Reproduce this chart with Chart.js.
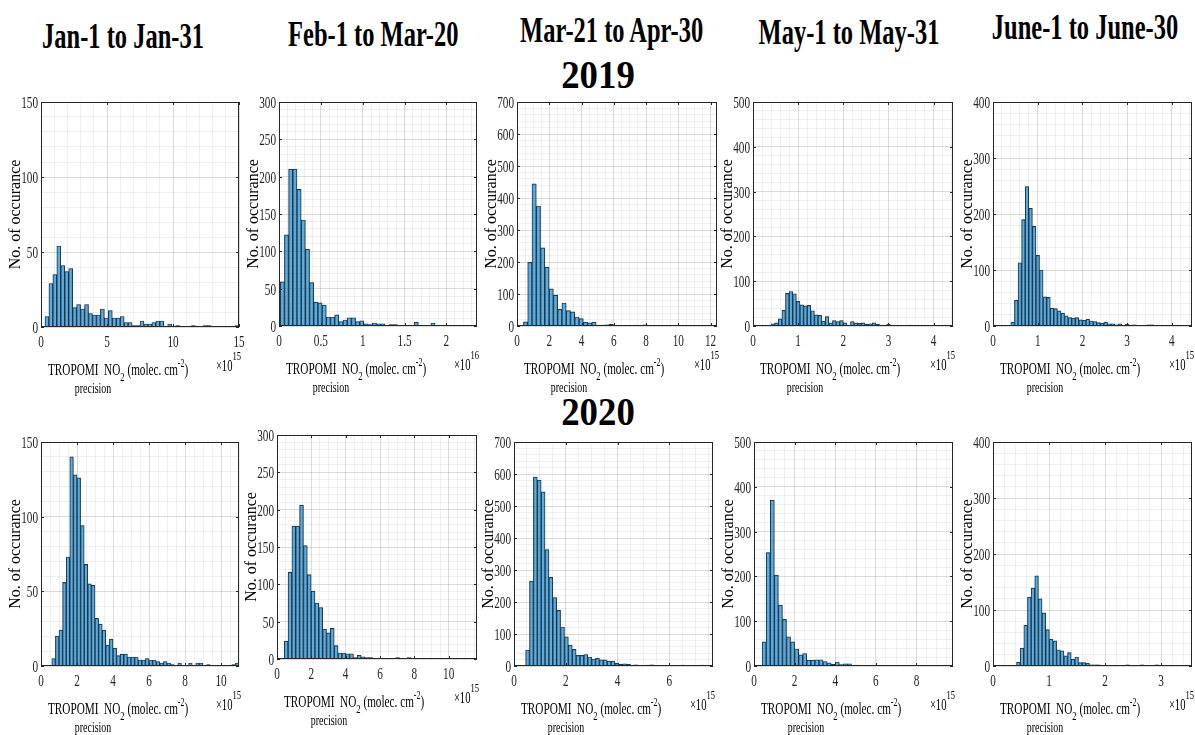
<!DOCTYPE html>
<html>
<head>
<meta charset="utf-8">
<script src="https://cdn.jsdelivr.net/npm/chart.js@4.4.1/dist/chart.umd.min.js"></script>
<style>
  body { margin: 0; background: #fff; width: 1195px; height: 735px; overflow: hidden; position: relative; }
  canvas { position: absolute; }
  .hd { position: absolute; font-family: "Liberation Serif", serif; font-weight: bold; line-height: 1;
        white-space: nowrap; color: #000; transform-origin: 50% 50%; }
</style>
</head>
<body>
<script>
// ---- data (x in units of 10^15, except Feb-Mar 2019 in 10^16) ----
const periods = ["Jan-1 to Jan-31", "Feb-1 to Mar-20", "Mar-21 to Apr-30", "May-1 to May-31", "June-1 to June-30"];
const years = ["2019", "2020"];

// first bin edge and bin width of each histogram
const binStart = [0.3, 0.015, 0.4, 0.4, 0.4, 0.6, 0.42, 0.45, 0.4, 0.42];
const binWidth = [0.3, 0.05, 0.265, 0.08, 0.08, 0.2, 0.224, 0.15, 0.2, 0.065];

const jan2019 = [7,29,35,54,41,37,39,13,15,12, 15,9,8,8,12,6,11,6,6,7, 3,3,1,1,4,2,2,3,4,4, 0,2,0,1,0,0,0,1,0,0, 1,1,0,0,0,0,0,0,1];
const feb2019 = [59,122,210,210,183,142,103,58,32,31, 28,12,12,15,6,8,11,11,6,7, 3,2,4,3,3,1,2,2,1,1, 1,1,5,1,1,0,4,1,0,1, 0,1,0,1,1,1,1];
const mar2019 = [13,199,444,375,244,184,116,96,52,72, 48,44,28,23,12,10,12,3,3,4, 5,3,2,1,2,2,3,1,4,2, 1,1,0,1,0,1,1,0,1,0, 1,1,0,1,2];
const may2019 = [5,7,16,35,73,77,72,55,47,45, 46,34,25,24,11,21,7,12,10,12, 7,2,10,7,6,7,4,5,7,4, 2,1,4,2,1,1,1,0,2,1, 0,0,1,0,0,1,0,0,0,1];
const jun2019 = [7,46,113,190,249,210,178,126,100,52, 51,32,31,27,23,18,15,14,15,11, 10,12,9,8,6,5,7,4,4,2, 4,1,3,1,2,1,1,1,2,2, 1,0,1,0,0,0,0,0,0,0];
const jan2020 = [5,20,24,56,73,140,128,126,94,68, 55,54,32,28,24,14,18,12,7,8, 8,6,6,6,4,4,5,4,4,3, 2,3,2,1,0,2,0,0,2,0, 2,2,0,1,0,0,0,0,0,0, 1,2];
const feb2020 = [24,116,178,178,206,152,113,91,75,69, 40,35,41,18,8,8,7,7,2,5, 3,2,2,1,1,0,0,0,1,2, 0,1,2,0,0,0,0,0,0,0, 0,0,0,0,0,0,0,0,0,1];
const mar2020 = [50,265,590,581,544,364,277,214,174,122, 91,65,52,33,33,36,28,22,24,19, 19,15,15,8,5,7,5,3,4,1, 2,3,4,1,1,1,0,1,0,1, 3,1,0,1,0,3,1,1];
const may2020 = [54,253,370,203,136,104,65,54,38,25, 28,13,13,14,14,10,7,4,9,3, 5,5,1,2,1,0,0,1,0,0, 1,0,0,0,0,0,1,0,0,0, 0,0,1,0,0,1,0];
const jun2020 = [7,32,73,123,139,161,120,95,65,48, 45,29,27,18,24,12,16,6,6,5, 2,2,2,1,1,0,0,1,0,1, 2,0,0,0,2,0,0,0,2,0, 0,0,1,0,0,1,1,0];
const allCounts = [jan2019, feb2019, mar2019, may2019, jun2019, jan2020, feb2020, mar2020, may2020, jun2020];

// axis limits and ticks
const xMax    = [15, 2.366, 12.4, 4.43, 4.45, 11, 11.65, 7.69, 9.8, 3.55];
const xMajor  = [5, 0.5, 2, 1, 1, 2, 2, 2, 2, 1];
const xMinor  = [1, 0.1, 0.5, 0.2, 0.2, 0.5, 0.5, 0.5, 0.5, 0.2];
const xPower  = [15, 16, 15, 15, 15, 15, 15, 15, 15, 15];
const yMax    = [150, 300, 700, 500, 400, 150, 300, 700, 500, 400];
const yMajor  = [50, 50, 100, 100, 100, 50, 50, 100, 100, 100];
const yMinor  = [10, 10, 20, 20, 20, 10, 10, 20, 20, 20];

// ---- layout: plot rectangles [left, top, right, bottom] in page pixels ----
const plotBoxes = [
  [41, 102, 239, 327], [279, 102, 477, 326], [517, 102, 717, 326], [753, 102, 953, 326], [993, 102, 1192, 326],
  [41, 442, 239, 666], [277, 435, 477, 659], [514, 442, 713, 666], [754, 442, 953, 666], [993, 442, 1192, 666]
];
const headers = [
  { text: periods[0], x: 123, y: 18 }, { text: periods[1], x: 373, y: 16 }, { text: periods[2], x: 611, y: 12 },
  { text: periods[3], x: 849, y: 14 }, { text: periods[4], x: 1085, y: 9 },
  { text: years[0], x: 598, y: 55, big: true }, { text: years[1], x: 598, y: 392, big: true }
];

headers.forEach(h => {
  const d = document.createElement('div');
  d.className = 'hd';
  d.textContent = h.text;
  d.style.fontSize = h.big ? '40px' : '36px';
  d.style.top = h.y + 'px';
  document.body.appendChild(d);
  const w = d.offsetWidth;
  d.style.left = (h.x - w / 2) + 'px';
  d.style.transform = 'scaleX(' + (h.big ? 0.92 : 0.68) + ')';
});

const SX = 0.66;            // glyphs in the figure are horizontally squeezed
const INK = '#262626';
const PADL = 45, PADT = 12, PADR = 40, AXH = 85;

function isMajor(v, step) {
  const r = v / step;
  return Math.abs(r - Math.round(r)) < 1e-6;
}
function fmt(v) { return String(+v.toFixed(3)); }

// draw a row of text pieces [text, size, dy], squeezed horizontally
function drawRuns(ctx, parts, x, y, align) {
  let total = 0;
  parts.forEach(p => { ctx.font = p[1] + 'px "Liberation Serif"'; total += ctx.measureText(p[0]).width * SX; });
  let cx = align === 'center' ? x - total / 2 : align === 'right' ? x - total : x;
  parts.forEach(p => {
    ctx.font = p[1] + 'px "Liberation Serif"';
    const w = ctx.measureText(p[0]).width;
    ctx.save();
    ctx.translate(cx, y + (p[2] || 0));
    ctx.scale(SX, 1);
    ctx.textAlign = 'left';
    ctx.fillText(p[0], 0, 0);
    ctx.restore();
    cx += w * SX;
  });
}

const matlabAxes = {
  id: 'matlabAxes',
  afterDraw(chart, args, o) {
    const { ctx, chartArea: a } = chart;
    const xs = chart.scales.x, ys = chart.scales.y;
    ctx.save();
    ctx.strokeStyle = INK;
    ctx.lineWidth = 1;
    ctx.strokeRect(a.left + 0.5, a.top + 0.5, a.right - a.left - 1, a.bottom - a.top - 1);
    ctx.beginPath();
    xs.ticks.forEach(t => {
      if (!isMajor(t.value, o.xMajor)) return;
      const px = Math.round(xs.getPixelForValue(t.value)) + 0.5;
      ctx.moveTo(px, a.bottom); ctx.lineTo(px, a.bottom - 3);
      ctx.moveTo(px, a.top); ctx.lineTo(px, a.top + 3);
    });
    ys.ticks.forEach(t => {
      if (!isMajor(t.value, o.yMajor)) return;
      const py = Math.round(ys.getPixelForValue(t.value)) + 0.5;
      ctx.moveTo(a.left, py); ctx.lineTo(a.left + 3, py);
      ctx.moveTo(a.right, py); ctx.lineTo(a.right - 3, py);
    });
    ctx.stroke();

    ctx.fillStyle = INK;
    ctx.textBaseline = 'alphabetic';
    xs.ticks.forEach(t => {
      if (!isMajor(t.value, o.xMajor)) return;
      drawRuns(ctx, [[fmt(t.value), 17]], xs.getPixelForValue(t.value), a.bottom + 20, 'center');
    });
    ys.ticks.forEach(t => {
      if (!isMajor(t.value, o.yMajor)) return;
      drawRuns(ctx, [[fmt(t.value), 17]], a.left - 3, ys.getPixelForValue(t.value) + 6, 'right');
    });

    // y title
    ctx.save();
    ctx.translate(a.left - 25, (a.top + a.bottom) / 2);
    ctx.rotate(-Math.PI / 2);
    ctx.font = '16px "Liberation Serif"';
    ctx.textAlign = 'center';
    ctx.textBaseline = 'middle';
    ctx.fillStyle = '#000';
    ctx.fillText('No. of occurance', 0, 0);
    ctx.restore();

    // x title with subscript / superscript, exponent and second line
    ctx.fillStyle = '#000';
    drawRuns(ctx, [['TROPOMI  NO', 17], ['2', 13, 6], [' (molec. cm', 17], ['-2', 12, -8], [')', 17]],
      a.left + 7, a.bottom + 48, 'left');
    drawRuns(ctx, [['×10', 16], [String(o.power), 13, -11]], a.right + 2, a.bottom + 44, 'right');
    drawRuns(ctx, [['precision', 15]], a.left + 52, a.bottom + 66, 'center');
    ctx.restore();
  }
};

allCounts.forEach((counts, i) => {
  const [L, T, R, B] = plotBoxes[i];
  const cv = document.createElement('canvas');
  cv.width = (R - L) + PADL + PADR;
  cv.height = (B - T) + PADT + AXH;
  cv.style.left = (L - PADL) + 'px';
  cv.style.top = (T - PADT) + 'px';
  document.body.appendChild(cv);

  const pts = counts.map((c, k) => ({ x: binStart[i] + binWidth[i] * (k + 0.5), y: c }));
  const xMaj = xMajor[i], yMaj = yMajor[i];

  new Chart(cv, {
    type: 'bar',
    plugins: [matlabAxes],
    data: {
      datasets: [{
        data: pts,
        backgroundColor: 'rgba(0,114,189,0.6)',
        borderColor: '#262626',
        borderWidth: 0.5,
        barPercentage: 1,
        categoryPercentage: 1
      }]
    },
    options: {
      responsive: false,
      animation: false,
      layout: { padding: { left: 0, top: PADT, right: PADR, bottom: 0 } },
      plugins: {
        legend: { display: false },
        tooltip: { enabled: false },
        matlabAxes: { xMajor: xMaj, yMajor: yMaj, power: xPower[i] }
      },
      scales: {
        x: {
          type: 'linear', min: 0, max: xMax[i], offset: false,
          grid: { offset: false, drawTicks: false, lineWidth: 1,
                  color: c => isMajor(c.tick.value, xMaj) ? 'rgba(0,0,0,0.14)' : 'rgba(0,0,0,0.06)' },
          border: { display: false },
          ticks: { display: false, stepSize: xMinor[i], includeBounds: false },
          afterFit: s => { s.height = AXH; }
        },
        y: {
          min: 0, max: yMax[i],
          grid: { drawTicks: false, lineWidth: 1,
                  color: c => isMajor(c.tick.value, yMaj) ? 'rgba(0,0,0,0.14)' : 'rgba(0,0,0,0.06)' },
          border: { display: false },
          ticks: { display: false, stepSize: yMinor[i], includeBounds: false },
          afterFit: s => { s.width = PADL; }
        }
      }
    }
  });
});
</script>
</body>
</html>
